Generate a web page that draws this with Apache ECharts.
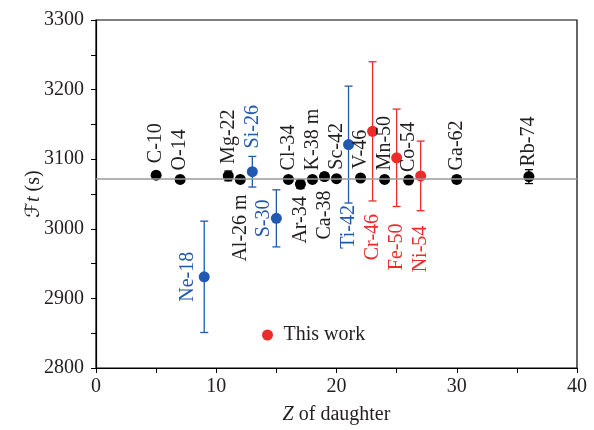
<!DOCTYPE html>
<html>
<head>
<meta charset="utf-8">
<script src="https://cdn.jsdelivr.net/npm/echarts@6/dist/echarts.min.js"></script>
<style>html,body{margin:0;padding:0;background:#fff;}#c{width:594px;height:430px;}</style>
</head>
<body>
<div id="c"></div>
<script>
// ---- data ----
const nuclides = ['C-10','O-14','Ne-18','Mg-22','Al-26 m','Si-26','S-30','Cl-34','Ar-34','K-38 m','Ca-38','Sc-42','Ti-42','V-46','Cr-46','Mn-50','Fe-50','Co-54','Ni-54','Ga-62','Rb-74'];
const zDaughter = [5,7,9,11,12,13,15,16,17,18,19,20,21,22,23,24,25,26,27,30,36];
const ftValues  = [3077,3071,2931,3076,3071,3082,3015,3071,3064,3071,3075,3072,3121,3073,3140,3071,3102,3070,3076,3071,3075];
const ftErrors  = [2,2,80,7,1,22,41,2,6,2,5,2,84,3,100,2,70,3,50,5,10];
const groups    = ['old','old','blue','old','old','blue','blue','old','old','old','old','old','blue','old','red','old','red','old','red','old','old'];
const averageFt = 3072;
const xTicks = [0,10,20,30,40];
const yTicks = [2800,2900,3000,3100,3200,3300];

// ---- styling / label placement ----
const colors = {old:'#000000', blue:'#2158b0', red:'#ee2a2a'};
const labelPlace = {
  'C-10':['up',12],'O-14':['up',9],'Ne-18':['left',16],'Mg-22':['up',12],'Al-26 m':['down',15],
  'Si-26':['upbar',8],'S-30':['left',13],'Cl-34':['up',9],'Ar-34':['down',12],'K-38 m':['up',9],
  'Ca-38':['down',14],'Sc-42':['up',9],'Ti-42':['downbar',2],'V-46':['up',9],'Cr-46':['downbar',13],
  'Mn-50':['up',9],'Fe-50':['downbar',17],'Co-54':['up',8],'Ni-54':['downbar',15],'Ga-62':['up',9],'Rb-74':['up',10]
};
const FONT = 'Liberation Serif, "Times New Roman", serif';
const TXT = '#231f20';

function pts(g){
  const out=[];
  for(let i=0;i<nuclides.length;i++) if(groups[i]===g) out.push([zDaughter[i], ftValues[i], ftErrors[i], nuclides[i]]);
  return out;
}
const allPts = nuclides.map((n,i)=>[zDaughter[i], ftValues[i], ftErrors[i], i]);

function errSeries(g){
  return {
    type:'custom', silent:true, z:3,
    data: pts(g),
    renderItem:function(params, api){
      const x=api.value(0), y=api.value(1), e=api.value(2);
      const top=api.coord([x,y+e]), bot=api.coord([x,y-e]);
      const c=colors[g], w=4;
      return {type:'group', children:[
        {type:'line', shape:{x1:top[0],y1:top[1],x2:bot[0],y2:bot[1]}, style:{stroke:c, lineWidth:1.3}},
        {type:'line', shape:{x1:top[0]-w,y1:top[1],x2:top[0]+w,y2:top[1]}, style:{stroke:c, lineWidth:1.3}},
        {type:'line', shape:{x1:bot[0]-w,y1:bot[1],x2:bot[0]+w,y2:bot[1]}, style:{stroke:c, lineWidth:1.3}}
      ]};
    }
  };
}
function dotSeries(g, name){
  return {type:'scatter', name:name, z:4, symbol:'circle', symbolSize:11,
    itemStyle:{color:colors[g], opacity:1}, data:pts(g).map(p=>[p[0],p[1]])};
}

const labelSeries = {
  type:'custom', silent:true, z:5, data:allPts,
  renderItem:function(params, api){
    const i=api.value(3);
    const x=api.value(0), y=api.value(1), e=api.value(2);
    const name=nuclides[i];
    const pl=labelPlace[name];
    let px, py, align;
    if(pl[0]==='up'){ const p=api.coord([x,y]); px=p[0]; py=p[1]-pl[1]; align='left'; }
    else if(pl[0]==='upbar'){ const p=api.coord([x,y+e]); px=p[0]; py=p[1]-pl[1]; align='left'; }
    else if(pl[0]==='down'){ const p=api.coord([x,y]); px=p[0]; py=p[1]+pl[1]; align='right'; }
    else if(pl[0]==='downbar'){ const p=api.coord([x,y-e]); px=p[0]; py=p[1]+pl[1]; align='right'; }
    else { const p=api.coord([x,y]); px=p[0]-pl[1]; py=p[1]; align='center'; }
    return {type:'text', x:px, y:py, rotation:Math.PI/2,
      style:{text:name, fill:groups[i]==='old'?TXT:colors[groups[i]], align:align, verticalAlign:'middle',
             font:'20px '+FONT}};
  }
};

const chart = echarts.init(document.getElementById('c'), null, {renderer:'canvas'});
chart.setOption({
  animation:false,
  backgroundColor:'#fff',
  grid:{left:96, right:17, top:20, bottom:59, show:true, borderColor:'#000', borderWidth:1.2, backgroundColor:'transparent'},
  legend:{show:true, data:['This work'], left:262, top:325, padding:0, itemWidth:22, itemHeight:11, itemGap:5,
    icon:'circle', textStyle:{fontFamily:FONT, fontSize:20, color:TXT}},
  xAxis:{type:'value', min:xTicks[0], max:xTicks[xTicks.length-1], interval:xTicks[1]-xTicks[0],
    name:'{i|Z} of daughter', nameLocation:'middle', nameGap:37, nameMoveOverlap:false,
    nameTextStyle:{fontFamily:FONT, fontSize:20, color:TXT, rich:{i:{fontFamily:FONT, fontSize:20, fontStyle:'italic', color:TXT}}},
    axisLine:{show:true, lineStyle:{color:'#000', width:1.2}},
    axisTick:{show:true, inside:false, length:5, lineStyle:{color:'#000'}},
    minorTick:{show:true, splitNumber:2, length:5, lineStyle:{color:'#000'}},
    splitLine:{show:false},
    axisLabel:{fontFamily:FONT, fontSize:20, color:TXT, margin:9, formatter:v=>String(v)}},
  yAxis:{type:'value', min:yTicks[0], max:yTicks[yTicks.length-1], interval:yTicks[1]-yTicks[0],
    name:'{f|\u2131}{t|t} (s)', nameLocation:'middle', nameGap:52, nameRotate:90, nameMoveOverlap:false,
    nameTextStyle:{fontFamily:FONT, fontSize:20, color:TXT,
      rich:{f:{fontFamily:'DejaVu Serif, DejaVu Sans', fontSize:20, fontStyle:'italic', color:TXT},
            t:{fontFamily:FONT, fontSize:20, fontStyle:'italic', color:TXT}}},
    axisLine:{show:true, lineStyle:{color:'#000', width:1.2}},
    axisTick:{show:true, inside:false, length:5, lineStyle:{color:'#000'}},
    minorTick:{show:true, splitNumber:2, length:5, lineStyle:{color:'#000'}},
    splitLine:{show:false},
    axisLabel:{fontFamily:FONT, fontSize:20, color:TXT, margin:12, formatter:v=>String(v)}},
  series:[
    {type:'line', data:[], silent:true, z:2,
      markLine:{silent:true, symbol:'none', label:{show:false},
        lineStyle:{color:'#9a9a9a', width:1.5, type:'solid'}, data:[{yAxis:averageFt}]}},
    errSeries('old'), errSeries('blue'), errSeries('red'),
    dotSeries('old','Previous'), dotSeries('blue','Blue'), dotSeries('red','This work'),
    labelSeries
  ]
});
</script>
</body>
</html>
